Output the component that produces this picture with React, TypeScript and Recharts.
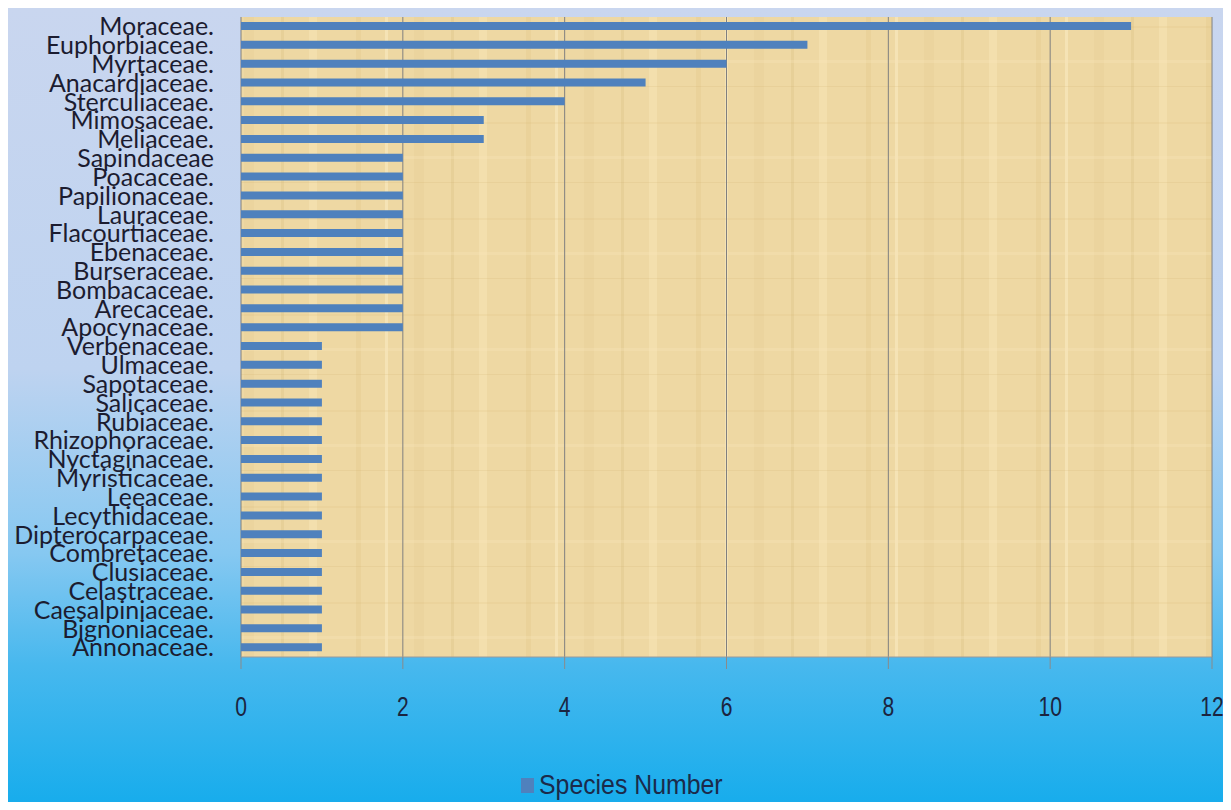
import React from "react";
import {
  Bar,
  BarChart,
  CartesianGrid,
  Legend,
  XAxis,
  YAxis,
} from "recharts";

// families, top to bottom as in the figure
const families = [
  "Moraceae.", "Euphorbiaceae.", "Myrtaceae.", "Anacardiaceae.", "Sterculiaceae.",
  "Mimosaceae.", "Meliaceae.", "Sapindaceae", "Poacaceae.", "Papilionaceae.",
  "Lauraceae.", "Flacourtiaceae.", "Ebenaceae.", "Burseraceae.", "Bombacaceae.",
  "Arecaceae.", "Apocynaceae.", "Verbenaceae.", "Ulmaceae.", "Sapotaceae.",
  "Salicaceae.", "Rubiaceae.", "Rhizophoraceae.", "Nyctaginaceae.", "Myristicaceae.",
  "Leeaceae.", "Lecythidaceae.", "Dipterocarpaceae.", "Combretaceae.", "Clusiaceae.",
  "Celastraceae.", "Caesalpiniaceae.", "Bignoniaceae.", "Annonaceae.",
];

const speciesNumber = [
  11, 7, 6, 5, 4, 3, 3, 2, 2, 2, 2, 2, 2, 2, 2, 2, 2,
  1, 1, 1, 1, 1, 1, 1, 1, 1, 1, 1, 1, 1, 1, 1, 1, 1,
];

const xTicks = [0, 2, 4, 6, 8, 10, 12];
// boundaries between categories (Excel-style tick marks)
const boundaryTicks = Array.from({ length: families.length + 1 }, (_, i) => i);

const data = families.map((family, i) => ({
  family,
  species: speciesNumber[i],
}));

const SANS = "'Liberation Sans', Arial, sans-serif";
const BAR_COLOR = "#4f81bd";

// condensed-looking numbers, like the Calibri ticks of the original
function XTick(props: any) {
  const { x, y, payload } = props;
  return (
    <text
      transform={`translate(${x},${y}) scale(0.78,1)`}
      textAnchor="middle"
      dy="0.71em"
      fill="#1b2440"
      fontSize={27}
      fontFamily={SANS}
    >
      {payload.value}
    </text>
  );
}

function LegendContent() {
  return (
    <div style={{ display: "flex", alignItems: "center", paddingLeft: 513, height: 30 }}>
      <span style={{ width: 13, height: 15, background: BAR_COLOR, display: "inline-block" }} />
      <svg width={190} height={30} style={{ marginLeft: 5 }}>
        <text
          transform="translate(0,15) scale(0.92,1)"
          dy="0.35em"
          fill="#1b2a4a"
          fontSize={27}
          fontFamily={SANS}
        >
          Species Number
        </text>
      </svg>
    </div>
  );
}

export default function App() {
  return (
    <div
      style={{
        width: 1222,
        height: 802,
        marginBottom: -8,
        background:
          "linear-gradient(to bottom, #c9d6ef 0%, #bed3f0 45%, #86c8f1 68%, #47b8ee 82%, #15acec 100%)",
      }}
    >
      <BarChart
        layout="vertical"
        width={1222}
        height={802}
        data={data}
        margin={{ top: 9, right: 18, bottom: 0, left: 0 }}
      >
        <defs>
          <pattern id="papyrus" width="170" height="96" patternUnits="userSpaceOnUse">
            <rect width="170" height="96" fill="#eed8a3" />
            <rect x="8" width="5" height="96" fill="#d9bb7c" opacity="0.22" />
            <rect x="37" width="3" height="96" fill="#fff3cf" opacity="0.4" />
            <rect x="66" width="10" height="96" fill="#dcbf82" opacity="0.16" />
            <rect x="103" width="3" height="96" fill="#cfae6e" opacity="0.2" />
            <rect x="131" width="8" height="96" fill="#fbe9bf" opacity="0.35" />
            <rect y="18" width="170" height="2" fill="#d4b273" opacity="0.15" />
            <rect y="52" width="170" height="3" fill="#f9e6b9" opacity="0.3" />
            <rect y="78" width="170" height="1" fill="#cfad6c" opacity="0.18" />
          </pattern>
        </defs>
        <CartesianGrid
          horizontal={false}
          stroke="#7f7f7f"
          fill="url(#papyrus)"
          fillOpacity={1}
        />
        <XAxis
          type="number"
          domain={[0, 12]}
          ticks={xTicks}
          height={113}
          tickSize={12}
          tickMargin={28}
          axisLine={{ stroke: "#9a9a9a" }}
          tickLine={{ stroke: "#8a8a8a" }}
          tick={<XTick />}
        />
        <YAxis
          yAxisId="bounds"
          type="number"
          domain={[0, families.length]}
          ticks={boundaryTicks}
          width={0}
          tickSize={9}
          tick={false}
          axisLine={{ stroke: "#8a8a8a" }}
          tickLine={{ stroke: "#8a8a8a" }}
        />
        <YAxis
          yAxisId="cat"
          type="category"
          dataKey="family"
          width={233}
          interval={0}
          tickSize={6}
          tickMargin={21}
          tickLine={false}
          axisLine={false}
          tick={{ fill: "#1c1c30", fontSize: 25, fontFamily: "Lato, sans-serif" }}
        />
        <Legend verticalAlign="bottom" height={40} content={<LegendContent />} />
        <Bar
          yAxisId="cat"
          dataKey="species"
          name="Species Number"
          fill={BAR_COLOR}
          barSize={8}
          isAnimationActive={false}
        />
      </BarChart>
    </div>
  );
}
